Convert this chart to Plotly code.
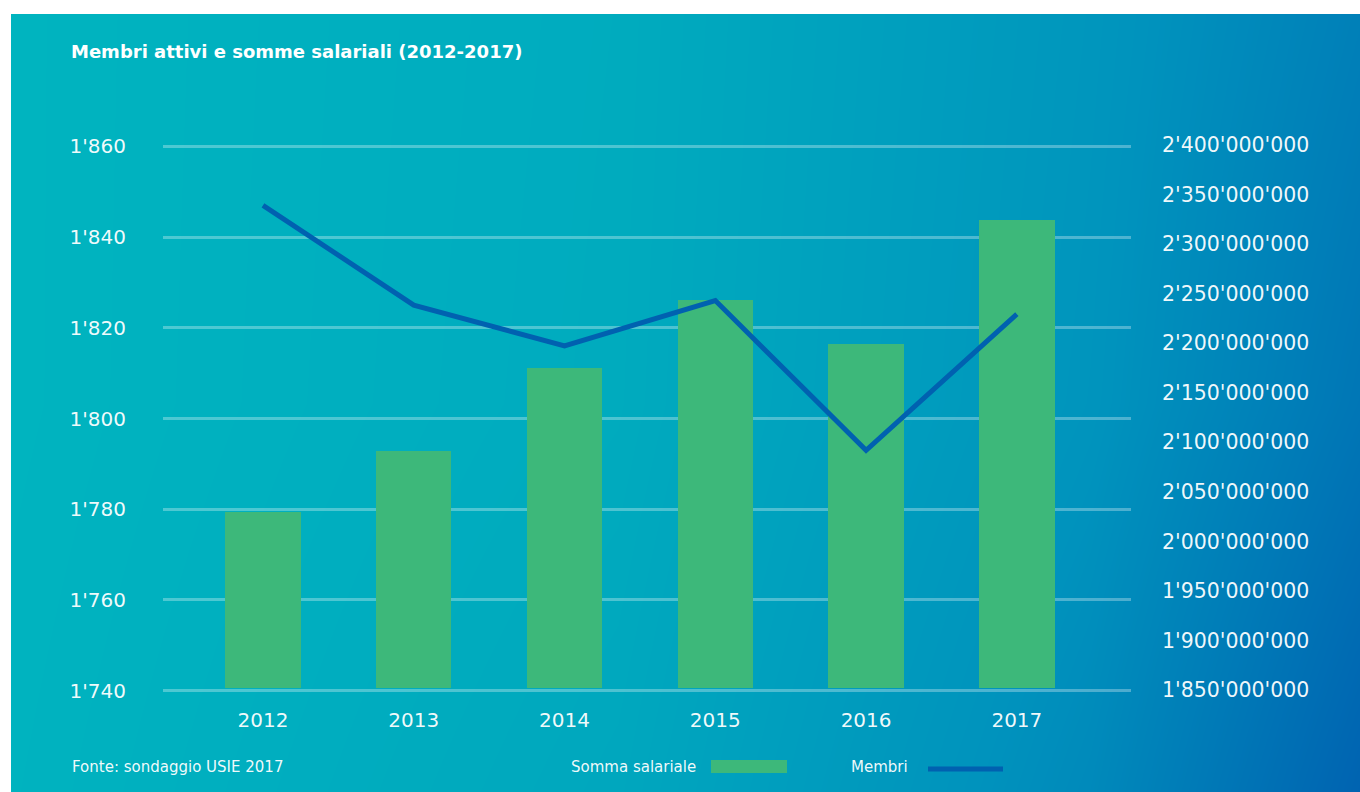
import plotly.graph_objects as go

# ---- data ----
years = ["2012", "2013", "2014", "2015", "2016", "2017"]
somma_salariale = [2030000000, 2091000000, 2175000000, 2244000000, 2199000000, 2324000000]
membri = [1847, 1825, 1816, 1826, 1793, 1823]
left_ticks = [1740, 1760, 1780, 1800, 1820, 1840, 1860]
right_ticks = [1850000000 + 50000000 * i for i in range(12)]

title_text = "Membri attivi e somme salariali (2012-2017)"
source_text = "Fonte: sondaggio USIE 2017"
legend_bar = "Somma salariale"
legend_line = "Membri"

# background gradient (colorscale positions on a coarse grid)
BG_X = [0, 0.45, 0.8, 1]
BG_Y = [0, 0.5, 1]
BG_Z = [
    [0.02, 0.20, 0.60, 1.00],
    [0.00, 0.14, 0.48, 0.80],
    [0.00, 0.13, 0.45, 0.70],
]

W, H = 1360, 792
def px(x):
    return x / W
def py(y):
    return 1 - y / H

FONT = "DejaVu Sans"
TXT = "rgba(255,255,255,0.95)"
BAR_COLOR = "#3DB87A"
LINE_COLOR = "#0061B0"
BAR_BASE = 1852000000

fig = go.Figure()

fig.add_trace(go.Heatmap(
    x=BG_X, y=BG_Y, z=BG_Z, zsmooth="best", zmin=0, zmax=1,
    colorscale=[[0, "#00B4BF"], [0.5, "#0093BD"], [1, "#0063B1"]],
    showscale=False, hoverinfo="skip", xaxis="x", yaxis="y",
))

fig.add_trace(go.Bar(
    x=years, y=[v - BAR_BASE for v in somma_salariale], base=BAR_BASE,
    marker=dict(color=BAR_COLOR, line=dict(width=0)), width=0.5,
    name=legend_bar, xaxis="x2", yaxis="y2", showlegend=False,
))

fig.add_trace(go.Scatter(
    x=years, y=membri, mode="lines",
    line=dict(color=LINE_COLOR, width=5),
    name=legend_line, xaxis="x2", yaxis="y3", showlegend=False,
))

TICKFONT = dict(family=FONT, size=20, color=TXT)

fig.update_layout(
    width=W, height=H,
    margin=dict(l=0, r=0, t=0, b=0, autoexpand=False),
    paper_bgcolor="white",
    plot_bgcolor="rgba(0,0,0,0)",
    separators=".'",
    font=dict(family=FONT, color=TXT, size=20),
    title=dict(
        text="<b>" + title_text + "</b>",
        x=px(71), xanchor="left", y=py(52), yanchor="middle",
        font=dict(family=FONT, size=18, color="white"),
        automargin=False,
    ),
    xaxis=dict(domain=[px(11), 1], range=[0, 1], visible=False,
               fixedrange=True, automargin=False),
    yaxis=dict(domain=[0, py(14)], range=[0, 1], visible=False,
               fixedrange=True, automargin=False),
    xaxis2=dict(
        domain=[px(163), px(1131)], anchor="y2", type="category",
        range=[-0.663, 5.757], showgrid=False, zeroline=False, showline=False,
        ticks="", ticklabelstandoff=14, tickfont=TICKFONT, automargin=False,
    ),
    # right axis: salary sums (bars), base subplot
    yaxis2=dict(
        domain=[py(692), py(145)], anchor="x2", side="right",
        range=[1848000000, 2400000000], tickvals=right_ticks, tickformat=",d",
        showgrid=False, zeroline=False, showline=False, ticks="",
        ticklabelstandoff=30, tickfont=dict(family=FONT, size=20.5, color=TXT),
        automargin=False,
    ),
    # left axis: members (line), overlaid on top
    yaxis3=dict(
        overlaying="y2", side="left", anchor="x2",
        range=[1739.7, 1860.3], tickvals=left_ticks, tickformat=",d",
        showgrid=True, gridcolor="rgba(255,255,255,0.3)", gridwidth=3,
        zeroline=False, showline=False, ticks="", ticklabelstandoff=36,
        tickfont=TICKFONT, automargin=False,
    ),
    bargap=0,
)

SMALL = dict(family=FONT, size=15, color=TXT)
fig.add_annotation(
    text=source_text, xref="paper", yref="paper", x=px(70), y=py(767),
    xanchor="left", yanchor="middle", showarrow=False, font=SMALL,
)
fig.add_annotation(
    text=legend_bar, xref="paper", yref="paper", x=px(569), y=py(767),
    xanchor="left", yanchor="middle", showarrow=False, font=SMALL,
)
fig.add_annotation(
    text=legend_line, xref="paper", yref="paper", x=px(849), y=py(767),
    xanchor="left", yanchor="middle", showarrow=False, font=SMALL,
)
fig.add_shape(
    type="rect", xref="paper", yref="paper",
    x0=px(711), x1=px(787), y0=py(773), y1=py(760),
    fillcolor=BAR_COLOR, line=dict(width=0),
)
fig.add_shape(
    type="line", xref="paper", yref="paper",
    x0=px(928), x1=px(1003), y0=py(769), y1=py(769),
    line=dict(color=LINE_COLOR, width=5),
)

fig.write_html("out.html")
